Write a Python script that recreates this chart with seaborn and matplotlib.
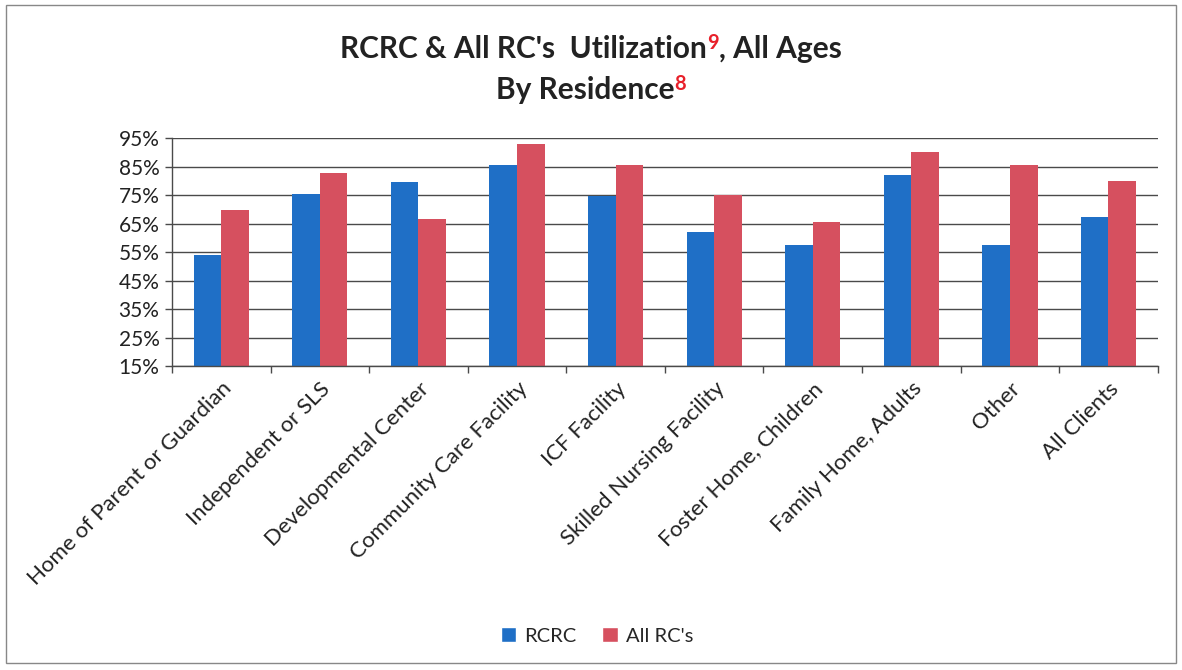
import pandas as pd
import numpy as np
import matplotlib
matplotlib.use("Agg")
import matplotlib.pyplot as plt
import seaborn as sns
from matplotlib.patches import Rectangle, Patch

residences = ["Home of Parent or Guardian", "Independent or SLS", "Developmental Center",
              "Community Care Facility", "ICF Facility", "Skilled Nursing Facility",
              "Foster Home, Children", "Family Home, Adults", "Other", "All Clients"]
rcrc = [54.0, 75.4, 79.4, 85.4, 74.7, 62.2, 57.5, 82.1, 57.3, 67.2]
all_rcs = [69.8, 82.7, 66.5, 92.9, 85.6, 75.1, 65.5, 90.2, 85.6, 80.0]
groups = ["RCRC", "All RC's"]
yticks = [15, 25, 35, 45, 55, 65, 75, 85, 95]

blue = "#1f6fc6"
red = "#d6505f"

df = pd.DataFrame({
    "Residence": residences * 2,
    "Utilization": rcrc + all_rcs,
    "Group": [groups[0]] * len(residences) + [groups[1]] * len(residences),
})

sns.set_theme(style="white")
plt.rcParams["font.family"] = ["Lato", "DejaVu Sans"]

fig = plt.figure(figsize=(11.82, 6.70), dpi=100)
ax = fig.add_axes([0.1455, 0.4537, 0.834, 0.3403])

sns.barplot(data=df, x="Residence", y="Utilization", hue="Group",
            palette=[blue, red], width=0.56, saturation=1, linewidth=0, ax=ax)
ax.get_legend().remove()

ax.set_ylim(15, 95)
ax.set_xlim(-0.5, len(residences) - 0.5)
ax.set_yticks(yticks)
ax.set_yticklabels([f"{v}%" for v in yticks], fontsize=15, color="#222222")
ax.yaxis.grid(True, color="#4a4a4a", linewidth=1)
ax.set_axisbelow(True)
ax.set_xlabel("")
ax.set_ylabel("")

ax.set_xticks(range(len(residences)))
ax.set_xticklabels(residences, rotation=45, ha="right", rotation_mode="anchor",
                   fontsize=16, color="#222222")
ax.set_xticks(np.arange(-0.5, len(residences), 1), minor=True)
ax.tick_params(axis="x", which="major", length=0, pad=9)
ax.tick_params(axis="x", which="minor", length=5, width=1, color="#4a4a4a", bottom=True)
ax.tick_params(axis="y", length=5, width=1, color="#4a4a4a", left=True, pad=4)

for side in ["top", "right"]:
    ax.spines[side].set_visible(False)
for side in ["left", "bottom"]:
    ax.spines[side].set_color("#4a4a4a")
    ax.spines[side].set_linewidth(1)

# title with red superscripts
renderer = fig.canvas.get_renderer()

def title_line(parts, y):
    texts = []
    for s, sup in parts:
        if sup:
            t = fig.text(0, 0, s, fontsize=14.5, fontweight="bold", color="#e8202a")
        else:
            t = fig.text(0, 0, s, fontsize=21.5, fontweight="bold", color="#222222")
        texts.append((t, sup))
    widths = [t.get_window_extent(renderer).width for t, _ in texts]
    x = (fig.bbox.width - sum(widths)) / 2
    for (t, sup), w in zip(texts, widths):
        t.set_position((x / fig.bbox.width, (y + (9 if sup else 0)) / fig.bbox.height))
        t.set_va("baseline")
        x += w

title_line([("RCRC & All RC's  Utilization", False), ("9", True), (", All Ages", False)], 670 - 58)
title_line([("By Residence", False), ("8", True)], 670 - 99)

handles = [Patch(facecolor=blue, label=groups[0]), Patch(facecolor=red, label=groups[1])]
fig.legend(handles=handles, loc="center", bbox_to_anchor=(0.505, 1 - 636 / 670), ncol=2,
           frameon=False, fontsize=14.5, handlelength=0.75, handleheight=0.75,
           handletextpad=0.4, columnspacing=1.3)

fig.patches.append(Rectangle((0.005, 0.01), 0.99, 0.982, transform=fig.transFigure,
                             fill=False, edgecolor="#888888", linewidth=1))

fig.savefig("out.png", dpi=100)
